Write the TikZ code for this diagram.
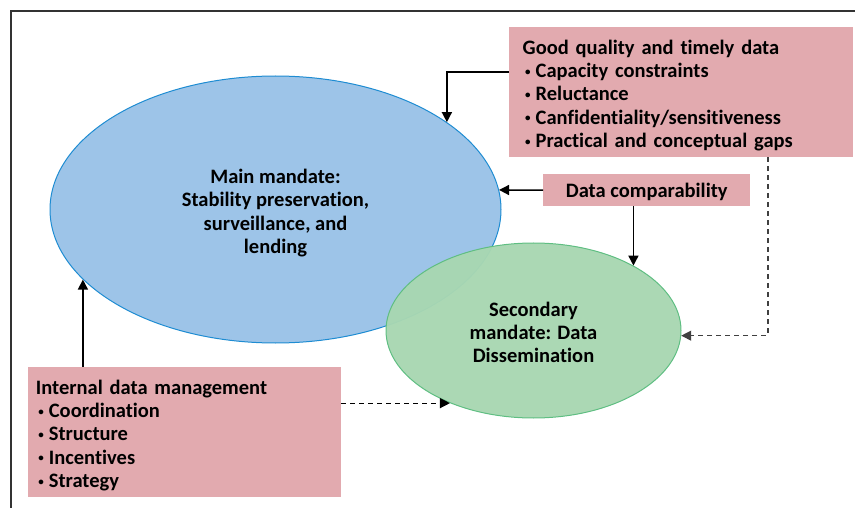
\documentclass[tikz,border=0pt]{standalone}
\usepackage{fontspec}
\setmainfont{Carlito}[Ligatures=NoCommon]
\usetikzlibrary{shapes.geometric,arrows.meta}
\definecolor{mainfill}{RGB}{157,196,232}
\definecolor{mainline}{RGB}{30,140,210}
\definecolor{secfill}{RGB}{168,215,178}
\definecolor{secline}{RGB}{95,190,130}
\definecolor{boxfill}{RGB}{226,170,175}
\newcommand{\bul}{\hspace*{2.5pt}\raisebox{2.5pt}{\fontsize{11}{11}\selectfont•}\hspace{5pt}}
\newcommand{\topgap}[1]{\rule{0pt}{#1}}
\begin{document}
\begin{tikzpicture}[x=1pt,y=-1pt,font=\fontsize{20.5}{23.4}\selectfont\bfseries]

        \useasboundingbox (0,0) rectangle (855,508);
        \draw[line width=1.2pt, black!80] (855,11) -- (11,11) -- (11,508);

        \begin{scope}[every node/.style={ellipse, inner sep=0pt, align=center, line width=1pt}]
          \node (main) at (275.5,209.5) [draw=mainline, fill=mainfill, minimum width=451pt, minimum height=267pt]
            {\topgap{21.5pt}Main mandate:\\Stability preservation,\\surveillance, and\\lending};
          \node (sec)  at (533.5,330.5) [draw=secline, fill=secfill, fill opacity=.97, text opacity=1, minimum width=295pt, minimum height=175pt]
            {\topgap{18pt}Secondary\\mandate: Data\\Dissemination};
        \end{scope}

        \begin{scope}[every node/.style={fill=boxfill, inner ysep=0pt, anchor=north west}]
          \node (qual) at (509,27)  [text width=317pt, inner xsep=13.5pt, minimum height=130pt, align=left]
            {\topgap{21pt}Good quality and timely data\\\bul Capacity constraints\\\bul Reluctance\\\bul Canfidentiality/sensitiveness\\\bul Practical and conceptual gaps};
          \node (comp) at (543,174) [inner xsep=0pt, text depth=0pt, minimum width=207pt, minimum height=32pt]
            {Data comparability};
          \node (mgmt) at (28,367)  [text width=297.6pt, inner xsep=7.7pt, minimum height=130pt, align=left]
            {\topgap{21pt}Internal data management\\\bul Coordination\\\bul Structure\\\bul Incentives\\\bul Strategy};
        \end{scope}

        \begin{scope}[>={Triangle[length=10pt,width=10pt]}]

          \begin{scope}[line width=1.5pt]
            \draw[->] ([yshift=20.3pt]qual.west) -| (main.27.4);
            \draw[->] (comp.west) -- (main.5);
            \draw[->] (sec.33.6 |- comp.south) -- (sec.33.6);
            \draw[->] (main.200 |- mgmt.north) -- (main.200);
          \end{scope}

          \begin{scope}[line width=1.2pt, dash pattern=on 5pt off 4pt]
            \draw[->, black!75] ([xshift=86.7pt]qual.south) |- (sec.-2);
            \draw[->] (sec.221 -| mgmt.east) -- (sec.221);
          \end{scope}
        \end{scope}

      \end{tikzpicture}
\end{document}
